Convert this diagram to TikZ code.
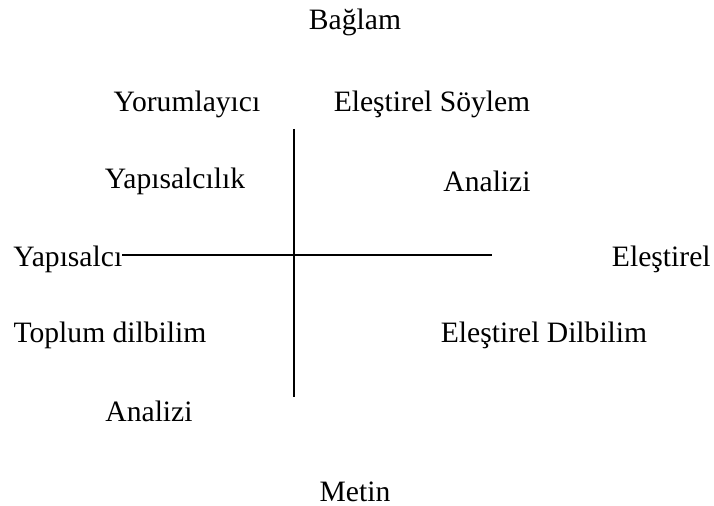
\documentclass[tikz,border=0pt]{standalone}
\usepackage{fontspec}
\setmainfont{Liberation Serif}
\usepackage{tikz}
\usetikzlibrary{positioning}

\begin{document}
\begin{tikzpicture}[x=0.5pt,y=-0.5pt,
  lbl/.style={inner sep=0pt,font=\fontsize{14.8}{17}\selectfont},
  axis/.style={line width=1pt}]
  \useasboundingbox (0,0) rectangle (714,506);
  % axes
  \coordinate (top) at (294,129);
  \coordinate (bottom) at (294,397);
  \coordinate (left) at (122,255);
  \coordinate (mid) at (305,255);
  \coordinate (right) at (492,255);
  \draw[axis] (top) -- (bottom);
  \draw[axis] (left) -- (mid);
  \draw[line width=0.7pt] (mid) -- (right);
  % labels
  \node[lbl] (baglam) at (355,22) {Bağlam};
  \node[lbl] (metin) at (355,492) {Metin};
  \node[lbl,anchor=west] (yapisalci) at (13,259) {Yapısalcı};
  \node[lbl,anchor=east] (elestirel) at (711,259) {Eleştirel};
  \node[lbl] (yorum) at (187,104) {Yorumlayıcı};
  \node[lbl] (yapcilik) at (175,181) {Yapısalcılık};
  \node[lbl] (soylem) at (432,104) {Eleştirel Söylem};
  \node[lbl] (analizia) at (487,181) {Analizi};
  \node[lbl] (toplum) at (110,335) {Toplum dilbilim};
  \node[lbl] (analizib) at (149,411) {Analizi};
  \node[lbl] (dilbilim) at (544,335) {Eleştirel Dilbilim};
\end{tikzpicture}
\end{document}
